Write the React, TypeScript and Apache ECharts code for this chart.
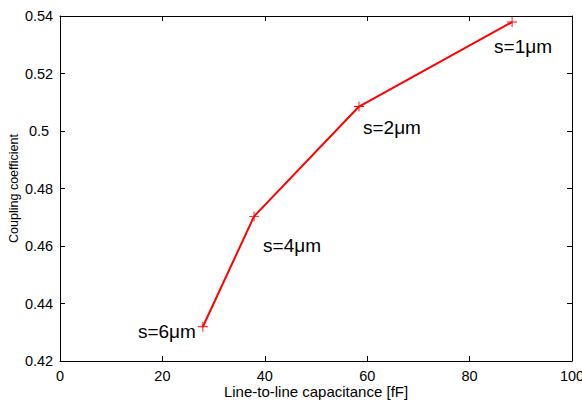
import React, { useEffect, useRef } from "react";
import * as echarts from "echarts";

const capacitance = [27.9, 37.9, 58.4, 88.3];
const coupling = [0.4319, 0.4703, 0.5085, 0.5379];
const spacingLabels = ["s=6\u03bcm", "s=4\u03bcm", "s=2\u03bcm", "s=1\u03bcm"];
const labelAlign = ["right", "left", "left", "left"];
const labelOffsets: any[] = [[-7, 5], [9, 29], [4, 21], [-18, 24]];
const xTicks = [0, 20, 40, 60, 80, 100];
const yTicks = [0.42, 0.44, 0.46, 0.48, 0.5, 0.52, 0.54];

const plusPath = "path://M4.55,0h0.9v10h-0.9zM0,4.55h10v0.9h-10z";

export default function App() {
  const ref = useRef<HTMLDivElement>(null);
  useEffect(() => {
    document.body.style.margin = "0";
    if (!ref.current) return;
    const chart = echarts.init(ref.current, undefined, { renderer: "svg" });
    const font = "'Liberation Sans', Arial, sans-serif";
    const axisCommon = {
      axisLine: { show: true, onZero: false, lineStyle: { color: "#000", width: 1 } },
      axisTick: { show: true, inside: true, length: 5, lineStyle: { color: "#000" } },
      splitLine: { show: false },
    };
    const xMin = xTicks[0];
    const xMax = xTicks[xTicks.length - 1];
    const xInt = xTicks[1] - xTicks[0];
    const yMin = yTicks[0];
    const yMax = yTicks[yTicks.length - 1];
    const yInt = 0.02;
    chart.setOption({
      animation: false,
      backgroundColor: "#fff",
      grid: {
        left: 60,
        right: 10,
        top: 16,
        bottom: 40,
        containLabel: false,
        outerBoundsMode: "none",
      },
      xAxis: [
        {
          type: "value",
          min: xMin,
          max: xMax,
          interval: xInt,
          position: "bottom",
          name: "Line-to-line capacitance [fF]",
          nameLocation: "middle",
          nameGap: 23,
          nameMoveOverlap: false,
          nameTextStyle: { fontFamily: font, fontSize: 15, color: "#000" },
          axisLabel: { margin: 7, fontFamily: font, fontSize: 14.5, color: "#000" },
          ...axisCommon,
        },
        {
          type: "value",
          min: xMin,
          max: xMax,
          interval: xInt,
          position: "top",
          axisLabel: { show: false },
          ...axisCommon,
        },
      ],
      yAxis: [
        {
          type: "value",
          min: yMin,
          max: yMax,
          interval: yInt,
          position: "left",
          name: "Coupling coefficient",
          nameLocation: "middle",
          nameGap: 40,
          nameMoveOverlap: false,
          nameTextStyle: { fontFamily: font, fontSize: 12.5, color: "#000" },
          axisLabel: {
            margin: 21,
            align: "center",
            fontFamily: font,
            fontSize: 14.5,
            color: "#000",
            formatter: (v: number) => String(parseFloat(v.toFixed(2))),
          },
          ...axisCommon,
        },
        {
          type: "value",
          min: yMin,
          max: yMax,
          interval: yInt,
          position: "right",
          axisLabel: { show: false },
          ...axisCommon,
        },
      ],
      series: [
        {
          type: "line",
          data: capacitance.map((x, i) => ({
            value: [x, coupling[i]],
            label: {
              show: true,
              formatter: spacingLabels[i],
              position: "inside",
              align: labelAlign[i],
              verticalAlign: "middle",
              offset: labelOffsets[i],
              fontFamily: font,
              fontSize: 19,
              color: "#000",
            },
          })),
          lineStyle: { color: "#ff0000", width: 2 },
          symbol: plusPath,
          symbolSize: 10,
          itemStyle: { color: "#ff0000" },
          showSymbol: true,
        },
      ],
    });
    return () => chart.dispose();
  }, []);
  return <div ref={ref} style={{ width: 582, height: 401 }} />;
}
